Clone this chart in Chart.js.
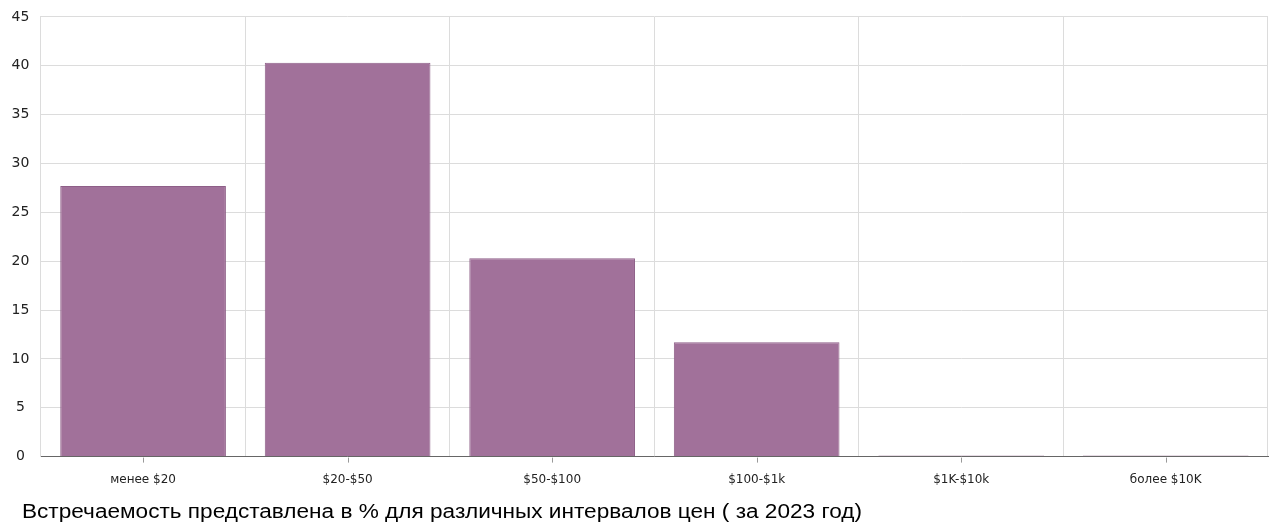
<!DOCTYPE html>
<html>
<head>
<meta charset="utf-8">
<script src="https://cdn.jsdelivr.net/npm/chart.js@4/dist/chart.umd.min.js"></script>
<style>
    body { margin: 0; background: #fff; overflow: hidden; }
    #wrap { position: relative; width: 1280px; height: 506px; margin-top: -3px; }
    #caption {
        position: absolute; left: 22px; top: 500px;
        font-family: 'Liberation Sans', Arial, sans-serif;
        font-size: 20px; color: #000; white-space: nowrap;
        transform: scaleX(1.13); transform-origin: left top;
    }
</style>
</head>
<body>
<div id="wrap"><canvas id="priceChart" width="1280" height="506"></canvas></div>
<div id="caption">Встречаемость представлена в % для различных интервалов цен ( за 2023 год)</div>
<script>
const categories = ['менее $20', '$20-$50', '$50-$100', '$100-$1k', '$1K-$10k', 'более $10K'];
const shares = [27.7, 40.3, 20.3, 11.7, 0.1, 0.1];
const yTicks = [0, 5, 10, 15, 20, 25, 30, 35, 40, 45];

// tick marks in the middle of each category, under the axis
const centerTicks = {
    id: 'centerTicks',
    afterDraw(chart) {
        const ctx = chart.ctx;
        const x = chart.scales.x;
        const bottom = chart.chartArea.bottom;
        ctx.save();
        ctx.strokeStyle = '#999';
        ctx.lineWidth = 1;
        categories.forEach((c, i) => {
            const px = Math.round(x.getPixelForValue(i)) + 0.5;
            ctx.beginPath();
            ctx.moveTo(px, bottom + 1);
            ctx.lineTo(px, bottom + 6);
            ctx.stroke();
        });
        ctx.restore();
    }
};

document.addEventListener('DOMContentLoaded', function() {
    const ctx = document.getElementById('priceChart').getContext('2d');
    new Chart(ctx, {
        type: 'bar',
        data: {
            labels: categories,
            datasets: [{
                data: shares,
                backgroundColor: '#a1719a',
                borderColor: '#8e5f88',
                borderWidth: 1,
                barPercentage: 1,
                categoryPercentage: 0.81
            }]
        },
        options: {
            responsive: false,
            animation: false,
            layout: { padding: { left: 0, right: 12, top: 0, bottom: 0 } },
            plugins: {
                legend: { display: false },
                tooltip: { enabled: false }
            },
            scales: {
                x: {
                    grid: { color: '#dcdcdc', drawTicks: false, offset: true },
                    border: { color: '#666', width: 1 },
                    ticks: {
                        padding: 16,
                        color: '#222',
                        font: { family: 'DejaVu Sans', size: 12 }
                    }
                },
                y: {
                    min: 0,
                    max: 45,
                    afterBuildTicks: axis => { axis.ticks = yTicks.map(v => ({ value: v })); },
                    grid: { color: '#dcdcdc', drawTicks: false },
                    border: { color: '#dcdcdc' },
                    ticks: {
                        padding: 11.5,
                        crossAlign: 'center',
                        color: '#222',
                        font: { family: 'DejaVu Sans', size: 14 }
                    }
                }
            }
        },
        plugins: [centerTicks]
    });
});
</script>
</body>
</html>
